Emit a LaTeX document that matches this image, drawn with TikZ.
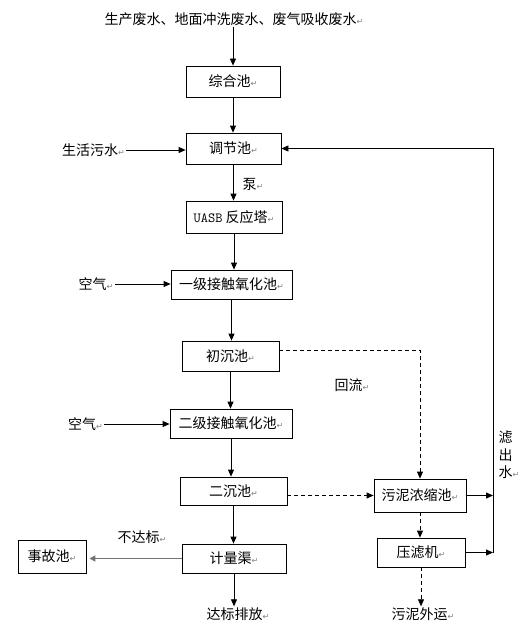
\documentclass[tikz,border=0pt]{standalone}
\usepackage{fontspec}
\setmainfont{Noto Sans CJK SC}
\newfontfamily\symfont{DejaVu Sans}
\usetikzlibrary{arrows.meta}
\newcommand\rt{{\symfont\fontsize{8}{8}\selectfont\color{gray}↵}}
\begin{document}
\begin{tikzpicture}[x=1pt,y=-1pt,
  box/.style={draw, line width=0.8pt, inner sep=0pt, font=\fontsize{14}{16}\selectfont},
  lbl/.style={inner sep=1pt, font=\fontsize{14}{16}\selectfont},
  arr/.style={-{Triangle[length=7pt,width=6pt]}, line width=0.8pt},
  dsh/.style={arr, dash pattern=on 4pt off 3pt},
  gar/.style={-{Triangle[length=6pt,width=6pt]}, draw=black!55, line width=1.8pt, shorten >=3pt}]
\useasboundingbox (0,0) rectangle (520,642);
% boxes
\node[box, minimum width=94pt,  minimum height=31pt] (zh)   at (233,81.5)   {综合池\rt};
\node[box, minimum width=95pt,  minimum height=31pt] (tj)   at (233.5,148.5){调节池\rt};
\node[box, minimum width=96pt,  minimum height=32pt] (uasb) at (234,217)    {{\ttfamily UASB} 反应塔\rt};
\node[box, minimum width=121pt, minimum height=29pt] (yj)   at (231.5,284.5){一级接触氧化池\rt};
\node[box, minimum width=97pt,  minimum height=30pt] (cc)   at (230.5,356)  {初沉池\rt};
\node[box, minimum width=122pt, minimum height=29pt] (ej)   at (231,423.5)  {二级接触氧化池\rt};
\node[box, minimum width=107pt, minimum height=28pt] (ec)   at (233.5,491)  {二沉池\rt};
\node[box, minimum width=92pt,  minimum height=33pt] (wn)   at (420,495.5)  {污泥浓缩池\rt};
\node[box, minimum width=88pt,  minimum height=29pt] (ylj)  at (421,552.5)  {压滤机\rt};
\node[box, minimum width=104pt, minimum height=29pt] (jl)   at (234,558.5)  {计量渠\rt};
\node[box, minimum width=68pt,  minimum height=33pt] (sg)   at (52,556.5)   {事故池\rt};
% labels
\node[lbl] (top) at (234,19)   {生产废水、地面冲洗废水、废气吸收废水\rt};
\node[lbl] (sh)  at (93.5,150) {生活污水\rt};
\node[lbl] (beng) at (253,184) {泵\rt};
\node[lbl] (kq1) at (96,284)   {空气\rt};
\node[lbl] (hl)  at (352,385)  {回流\rt};
\node[lbl] (kq2) at (85.5,424) {空气\rt};
\node[lbl] (bdb) at (142,537)  {不达标\rt};
\node[lbl] (db)  at (238,614)  {达标排放\rt};
\node[lbl] (wy)  at (423,614)  {污泥外运\rt};
\node[lbl, align=center, font=\fontsize{14}{17.5}\selectfont] (lcs) at (505.5,455) {滤\\出\\水\rlap{\rt}};
\coordinate (r2) at (493,553);
% main flow
\draw[arr] (zh.north |- top.south) -- (zh.north);
\draw[arr] (zh.south) -- (zh.south |- tj.north);
\draw[arr] (tj.south) -- (tj.south |- uasb.north);
\draw[arr] (uasb.south) -- (uasb.south |- yj.north);
\draw[arr] (yj.south) -- (yj.south |- cc.north);
\draw[arr] (cc.south) -- (cc.south |- ej.north);
\draw[arr] (ej.south) -- (ej.south |- ec.north);
\draw[arr] (ec.south) -- (ec.south |- jl.north);
\draw[arr] (jl.south) -- (jl.south |- db.north);
\draw[gar] (jl.west) -- (jl.west -| sg.east);
% side inputs
\draw[arr] (sh.east) -- (sh.east -| tj.west);
\draw[arr] (kq1.east) -- (kq1.east -| yj.west);
\draw[arr] (kq2.east) -- (kq2.east -| ej.west);
% sludge
\draw[dsh] ([yshift=6pt]cc.east) -| (wn.north);
\draw[dsh] (ec.east |- wn.west) -- (wn.west);
\draw[dsh] (wn.south) -- (wn.south |- ylj.north);
\draw[dsh] (ylj.south) -- (ylj.south |- wy.north);
% return
\draw[arr] (wn.east) -- (wn.east -| r2);
\draw[arr] (ylj.east) -- (ylj.east -| r2);
\draw[arr] (r2) |- (tj.east);
\end{tikzpicture}
\end{document}
